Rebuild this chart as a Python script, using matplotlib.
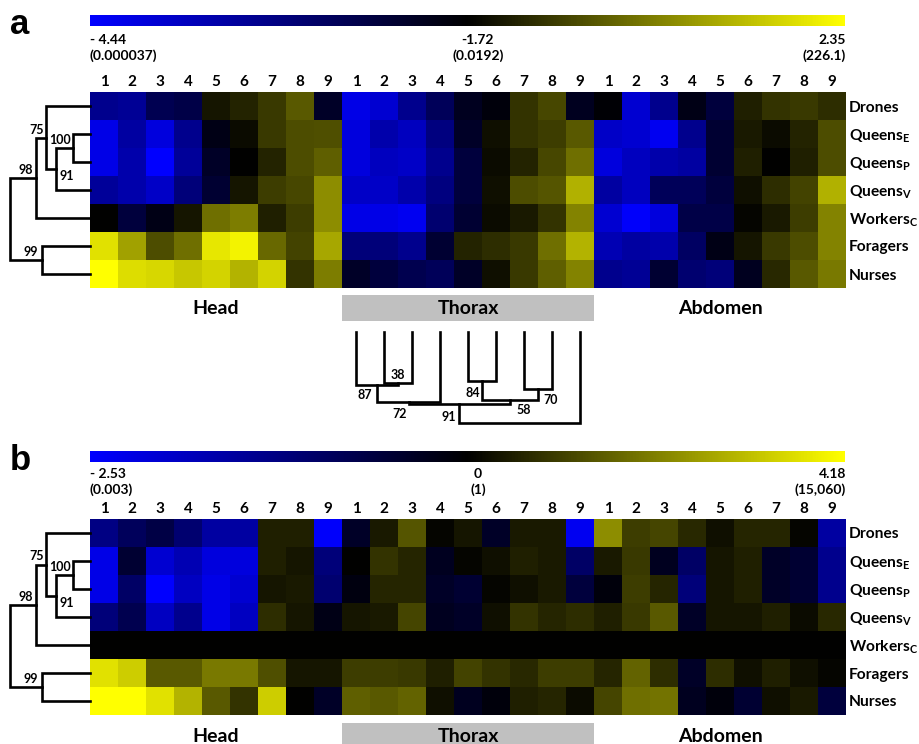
import matplotlib
matplotlib.use('Agg')
import matplotlib.pyplot as plt
import numpy as np
from matplotlib.colors import LinearSegmentedColormap, TwoSlopeNorm

plt.rcParams['font.family'] = ['Lato', 'DejaVu Sans']
plt.rcParams['font.weight'] = 'bold'
plt.rcParams['mathtext.fontset'] = 'custom'
plt.rcParams['mathtext.rm'] = 'Lato:bold'
plt.rcParams['mathtext.it'] = 'Lato:bold'
plt.rcParams['mathtext.bf'] = 'Lato:bold'

W, H = 919, 744  # 图像像素大小

# 行 / 列标签
row_names = ['Drones', r'Queens$_{\mathrm{E}}$', r'Queens$_{\mathrm{P}}$', r'Queens$_{\mathrm{V}}$',
             r'Workers$_{\mathrm{C}}$', 'Foragers', 'Nurses']
tissues = ['Head', 'Thorax', 'Abdomen']
col_names = [str(i) for i in range(1, 10)] * 3

# a: log 值 (blue -4.44 ... black -1.72 ... yellow 2.35)
a_head = [
    [-3.22, -3.30, -2.59, -2.48, -1.39, -1.15, -0.82, -0.30, -2.13],
    [-4.17, -3.43, -4.06, -3.22, -1.94, -1.56, -0.82, -0.50, -0.46],
    [-4.17, -3.54, -4.44, -3.35, -2.13, -1.72, -1.15, -0.50, -0.21],
    [-3.35, -3.54, -3.84, -3.00, -2.26, -1.39, -0.74, -0.58, 0.52],
    [-1.72, -2.37, -1.94, -1.39, 0.03, 0.27, -1.23, -0.74, 0.52],
    [1.86, 0.84, -0.50, 0.03, 1.94, 2.15, -0.05, -0.66, 0.93],
    [2.35, 1.78, 1.70, 1.45, 1.62, 1.13, 1.62, -0.91, 0.27],
]
a_thorax = [
    [-4.17, -3.95, -3.22, -2.67, -2.05, -1.83, -0.91, -0.58, -2.05],
    [-4.06, -3.54, -3.76, -3.08, -2.13, -1.48, -0.91, -0.74, -0.30],
    [-4.06, -3.76, -3.84, -3.22, -2.37, -1.56, -1.15, -0.58, 0.03],
    [-3.84, -3.84, -3.54, -3.08, -2.37, -1.48, -0.50, -0.38, 1.09],
    [-4.17, -4.17, -4.28, -2.89, -2.26, -1.56, -1.31, -0.91, 0.36],
    [-3.00, -3.00, -3.22, -2.26, -1.15, -0.99, -0.82, 0.03, 1.13],
    [-2.13, -2.37, -2.56, -2.67, -2.13, -1.48, -0.82, -0.21, 0.36],
]
a_abdomen = [
    [-1.77, -3.95, -3.22, -1.94, -2.37, -1.23, -0.91, -0.82, -0.99],
    [-3.84, -3.95, -4.28, -3.22, -2.26, -1.31, -1.56, -1.15, -0.50],
    [-4.06, -3.76, -3.54, -3.43, -2.26, -1.23, -1.72, -1.23, -0.50],
    [-3.43, -3.76, -2.67, -2.67, -2.37, -1.48, -0.99, -0.66, 1.09],
    [-3.95, -4.39, -4.06, -2.48, -2.48, -1.64, -1.31, -0.74, 0.36],
    [-3.62, -3.43, -3.54, -2.78, -1.94, -1.39, -0.82, -0.50, 0.36],
    [-3.22, -3.30, -2.26, -2.89, -3.00, -2.05, -1.07, -0.30, 0.19],
]

# b: log 值 (blue -2.53 ... black 0 ... yellow 4.18)
b_head = [
    [-1.29, -0.89, -0.68, -1.09, -1.59, -1.59, 0.50, 0.50, -2.48],
    [-2.28, -0.51, -2.07, -1.77, -2.18, -2.18, 0.50, 0.33, -1.19],
    [-2.28, -0.99, -2.53, -1.90, -2.28, -2.07, 0.33, 0.42, -1.09],
    [-1.19, -0.78, -1.90, -1.39, -2.28, -1.90, 0.75, 0.33, -0.20],
    [0, 0, 0, 0, 0, 0, 0, 0, 0],
    [3.68, 3.34, 1.46, 1.46, 1.96, 1.96, 1.30, 0.33, 0.33],
    [4.18, 4.18, 3.68, 2.93, 1.46, 0.84, 3.34, 0.00, -0.38],
]
b_thorax = [
    [-0.38, 0.42, 1.38, 0.08, 0.33, -0.38, 0.42, 0.42, -2.38],
    [0.00, 0.84, 0.59, -0.30, 0.08, 0.25, 0.50, 0.42, -0.99],
    [-0.15, 0.59, 0.59, -0.38, -0.51, 0.08, 0.25, 0.42, -0.61],
    [0.33, 0.42, 1.13, -0.30, -0.38, 0.25, 0.84, 0.59, 0.75],
    [0, 0, 0, 0, 0, 0, 0, 0, 0],
    [1.00, 1.00, 0.92, 0.50, 1.09, 0.84, 0.67, 1.00, 1.00],
    [1.55, 1.46, 1.63, 0.25, -0.30, -0.10, 0.50, 0.59, 0.17],
]
b_abdomen = [
    [2.30, 1.00, 1.13, 0.67, 0.25, 0.59, 0.59, 0.08, -1.59],
    [0.42, 0.92, -0.30, -0.99, 0.33, 0.50, -0.38, -0.51, -1.39],
    [-0.10, 1.00, 0.59, -1.19, 0.33, 0.50, -0.38, -0.51, -1.39],
    [0.50, 0.92, 1.46, -0.38, 0.33, 0.33, 0.50, 0.17, 0.67],
    [0, 0, 0, 0, 0, 0, 0, 0, 0],
    [0.59, 1.63, 0.75, -0.38, 0.75, 0.25, 0.50, 0.25, 0.08],
    [1.13, 1.80, 1.88, -0.30, -0.10, -0.51, 0.25, 0.42, -0.61],
]

# 色标范围及标签
a_scale = (-4.44, -1.72, 2.35)
a_scale_labels = ['- 4.44\n(0.000037)', '-1.72\n(0.0192)', '2.35\n(226.1)']
b_scale = (-2.53, 0.0, 4.18)
b_scale_labels = ['- 2.53\n(0.003)', '0\n(1)', '4.18\n(15,060)']

# 树: (左, 右, 高度, 支持值)
row_tree = [(1, 2, 17, '100'), (7, 3, 34, '91'), (0, 8, 44, '75'),
            (9, 4, 54, '98'), (5, 6, 48, '99'), (10, 11, 80, '')]
row_tree_offsets = [(-2, 2, 'right', 'bottom'), (4, -1, 'left', 'top'), (-2, 2, 'right', 'bottom'),
                    (-3, 2, 'right', 'bottom'), (-4, 2, 'right', 'bottom'), (0, 0, 'left', 'bottom')]
col_tree = [(1, 2, 51, '38'), (0, 9, 53, '87'), (10, 3, 70, '72'), (4, 5, 49, '84'),
            (6, 7, 57, '70'), (12, 13, 68, '58'), (11, 14, 72, '91'), (15, 8, 91, '')]
col_tree_offsets = [(0, 2, 'center', 'bottom'), (-5, -4, 'right', 'top'), (-9, -6, 'center', 'top'),
                    (-2, -6, 'right', 'top'), (5, -5, 'left', 'top'), (6, -4, 'left', 'top'),
                    (-3, -7, 'right', 'top'), (0, 0, 'left', 'top')]

cmap = LinearSegmentedColormap.from_list('byb', ['#0000ff', '#000000', '#ffff00'])

fig = plt.figure(figsize=(W / 100, H / 100), dpi=100)


def px_axes(x0, y0, x1, y1):
    ax = fig.add_axes([x0 / W, 1 - y1 / H, (x1 - x0) / W, (y1 - y0) / H])
    return ax


def ftext(x, y, s, **kw):
    fig.text(x / W, 1 - y / H, s, **kw)


def draw_tree(ax, tree, n, horizontal, offsets):
    pos = list(range(n))
    hgt = [0] * n
    for i, (l, r, h, lab) in enumerate(tree):
        xs = [hgt[l], h, h, hgt[r]]
        ys = [pos[l], pos[l], pos[r], pos[r]]
        if not horizontal:
            xs, ys = ys, xs
        ax.plot(xs, ys, color='black', lw=1.9, clip_on=False,
                solid_joinstyle='miter', solid_capstyle='projecting')
        p = (pos[l] + pos[r]) / 2
        pos.append(p)
        hgt.append(h)
        if lab:
            dx, dy, ha, va = offsets[i]
            xy = (h, p) if horizontal else (p, h)
            ax.annotate(lab, xy, xytext=(dx, dy), textcoords='offset pixels',
                        ha=ha, va=va, fontsize=9, fontweight='bold')
    ax.axis('off')


def panel(letter, y_cb, y_lab, y_hm, y_box, head, thorax, abdomen, scale, scale_labels, col_tree_on):
    data = np.hstack([np.array(head), np.array(thorax), np.array(abdomen)])
    norm = TwoSlopeNorm(vmin=scale[0], vcenter=scale[1], vmax=scale[2])

    # 色标
    cax = px_axes(90, y_cb, 845, y_cb + 11)
    cax.imshow(np.linspace(0, 1, 512)[None, :], cmap=cmap, aspect='auto')
    cax.axis('off')
    ftext(90, y_lab, scale_labels[0], ha='left', va='center', fontsize=10, linespacing=1.25)
    ftext(478, y_lab, scale_labels[1], ha='center', va='center', fontsize=10, linespacing=1.25)
    ftext(846, y_lab, scale_labels[2], ha='right', va='center', fontsize=10, linespacing=1.25,
          multialignment='right')

    # 热图
    ax = px_axes(90, y_hm, 846, y_hm + 196)
    ax.imshow(data, cmap=cmap, norm=norm, aspect='auto', interpolation='nearest')
    ax.xaxis.tick_top()
    ax.set_xticks(range(len(col_names)))
    ax.set_xticklabels(col_names, fontsize=11)
    ax.yaxis.tick_right()
    ax.set_yticks(range(len(row_names)))
    ax.set_yticklabels(row_names, fontsize=11.2)
    ax.tick_params(length=0, pad=2)
    for s in ax.spines.values():
        s.set_visible(False)

    # 行树
    tax = px_axes(0, y_hm, 90, y_hm + 196)
    tax.set_xlim(90, 0)
    tax.set_ylim(6.5, -0.5)
    draw_tree(tax, row_tree, 7, True, row_tree_offsets)

    # 组织标签
    lax = px_axes(90, y_box, 846, y_box + 26)
    lax.set_xlim(-0.5, 26.5)
    lax.set_ylim(0, 1)
    lax.axvspan(8.5, 17.5, color='#c0c0c0', lw=0)
    for k, t in enumerate(tissues):
        lax.text(9 * k + 4, 0.48, t, ha='center', va='center', fontsize=14, fontweight='bold')
    lax.axis('off')

    if col_tree_on:
        cax2 = px_axes(342, y_box + 37, 594, y_box + 130)
        cax2.set_xlim(-0.5, 8.5)
        cax2.set_ylim(93, 0)
        draw_tree(cax2, col_tree, 9, False, col_tree_offsets)

    ftext(10, y_cb + 10, letter, ha='left', va='center', fontsize=25, fontweight='bold',
          family='Liberation Sans')


panel('a', 15, 48, 92, 295, a_head, a_thorax, a_abdomen, a_scale, a_scale_labels, True)
panel('b', 451, 482, 519, 723, b_head, b_thorax, b_abdomen, b_scale, b_scale_labels, False)

plt.savefig('out.png', dpi=100)
